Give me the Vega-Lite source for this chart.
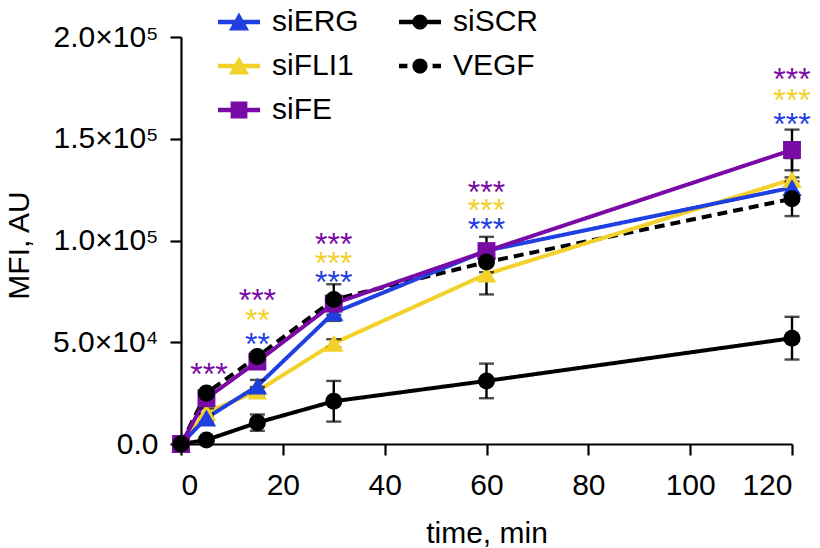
{
  "$schema": "https://vega.github.io/schema/vega-lite/v6.json",
  "autosize": "none",
  "width": 611,
  "height": 407,
  "padding": {"left": 181, "top": 37, "right": 28, "bottom": 104},
  "background": "white",
  "config": {
    "view": {"stroke": null},
    "font": "Liberation Sans",
    "axis": {"grid": false, "domainColor": "black", "tickColor": "black", "labelColor": "black", "titleColor": "black", "domainWidth": 2.2, "tickWidth": 2.2, "tickSize": 11, "labelFont": "Liberation Sans", "titleFont": "Liberation Sans", "labelFontSize": 30, "titleFontSize": 30, "titleFontWeight": "normal"}
  },
  "datasets": {
    "main": [
      {"series": "siSCR", "time": 0, "value": 0, "lo": 0, "hi": 0},
      {"series": "siSCR", "time": 5, "value": 2000, "lo": 1000, "hi": 3000},
      {"series": "siSCR", "time": 15, "value": 10500, "lo": 6500, "hi": 14500},
      {"series": "siSCR", "time": 30, "value": 21000, "lo": 11000, "hi": 31000},
      {"series": "siSCR", "time": 60, "value": 31000, "lo": 22500, "hi": 39500},
      {"series": "siSCR", "time": 120, "value": 52000, "lo": 41500, "hi": 62500},
      {"series": "VEGF", "time": 0, "value": 0, "lo": 0, "hi": 0},
      {"series": "VEGF", "time": 5, "value": 25000, "lo": 23500, "hi": 26500},
      {"series": "VEGF", "time": 15, "value": 43000, "lo": 41000, "hi": 45000},
      {"series": "VEGF", "time": 30, "value": 71000, "lo": 63500, "hi": 78500},
      {"series": "VEGF", "time": 60, "value": 89400, "lo": 84400, "hi": 94400},
      {"series": "VEGF", "time": 120, "value": 120500, "lo": 112000, "hi": 129000},
      {"series": "siFLI1", "time": 0, "value": 0, "lo": 0, "hi": 0},
      {"series": "siFLI1", "time": 5, "value": 15500, "lo": 13500, "hi": 17500},
      {"series": "siFLI1", "time": 15, "value": 26000, "lo": 24000, "hi": 28000},
      {"series": "siFLI1", "time": 30, "value": 49500, "lo": 47500, "hi": 51500},
      {"series": "siFLI1", "time": 60, "value": 83500, "lo": 73500, "hi": 93500},
      {"series": "siFLI1", "time": 120, "value": 130000, "lo": 119500, "hi": 140500},
      {"series": "siERG", "time": 0, "value": 0, "lo": 0, "hi": 0},
      {"series": "siERG", "time": 5, "value": 12800, "lo": 10800, "hi": 14800},
      {"series": "siERG", "time": 15, "value": 28500, "lo": 25500, "hi": 31500},
      {"series": "siERG", "time": 30, "value": 64500, "lo": 60500, "hi": 68500},
      {"series": "siERG", "time": 60, "value": 95000, "lo": 92000, "hi": 98000},
      {"series": "siERG", "time": 120, "value": 126000, "lo": 121000, "hi": 131000},
      {"series": "siFE", "time": 0, "value": 0, "lo": 0, "hi": 0},
      {"series": "siFE", "time": 5, "value": 22500, "lo": 20500, "hi": 24500},
      {"series": "siFE", "time": 15, "value": 40500, "lo": 37500, "hi": 43500},
      {"series": "siFE", "time": 30, "value": 69000, "lo": 66000, "hi": 72000},
      {"series": "siFE", "time": 60, "value": 94800, "lo": 87800, "hi": 101800},
      {"series": "siFE", "time": 120, "value": 144500, "lo": 134500, "hi": 154500}
    ],
    "stars": [
      {"series": "siFE", "time": 5.5, "pos": 37800, "label": "***"},
      {"series": "siFE", "time": 15, "pos": 74200, "label": "***"},
      {"series": "siFLI1", "time": 15, "pos": 64200, "label": "**"},
      {"series": "siERG", "time": 15, "pos": 52400, "label": "**"},
      {"series": "siFE", "time": 30, "pos": 101700, "label": "***"},
      {"series": "siFLI1", "time": 30, "pos": 92400, "label": "***"},
      {"series": "siERG", "time": 30, "pos": 83000, "label": "***"},
      {"series": "siFE", "time": 60, "pos": 127300, "label": "***"},
      {"series": "siFLI1", "time": 60, "pos": 118300, "label": "***"},
      {"series": "siERG", "time": 60, "pos": 108900, "label": "***"},
      {"series": "siFE", "time": 120, "pos": 182800, "label": "***"},
      {"series": "siFLI1", "time": 120, "pos": 172600, "label": "***"},
      {"series": "siERG", "time": 120, "pos": 160800, "label": "***"}
    ]
  },
  "layer": [
    {
      "data": {"name": "main"},
      "mark": {"type": "line", "strokeWidth": 4, "clip": false},
      "encoding": {
        "x": {"field": "time", "type": "quantitative", "title": "time, min", "scale": {"domain": [0, 120], "nice": false, "zero": false},
          "axis": {"values": [0, 20, 40, 60, 80, 100, 120], "labelBaseline": "alphabetic", "labelPadding": 39, "titleBaseline": "alphabetic", "titleY": 98, "titlePadding": 0}},
        "y": {"field": "value", "type": "quantitative", "title": "MFI, AU", "scale": {"domain": [0, 200000], "nice": false},
          "axis": {"values": [0, 50000, 100000, 150000, 200000], "labelExpr": "datum.value===0?'0.0':datum.value===50000?'5.0×10⁴':datum.value===100000?'1.0×10⁵':datum.value===150000?'1.5×10⁵':'2.0×10⁵'", "labelPadding": 12, "titleX": -153, "titleY": 208, "titleAngle": 270, "titleBaseline": "alphabetic", "titleAlign": "center"}},
        "color": {"field": "series", "type": "nominal",
          "scale": {"domain": ["siERG", "siFLI1", "siFE", "siSCR", "VEGF"], "range": ["#1f3fe0", "#f2d12a", "#7a0aa5", "#000000", "#000000"]},
          "legend": {"orient": "none", "legendX": 37, "legendY": -36, "columns": 2, "title": null, "padding": 0, "labelFontSize": 30, "labelColor": "black", "labelFont": "Liberation Sans", "labelOffset": 12, "rowPadding": 8, "columnPadding": 40, "symbolSize": 1764,
            "encode": {"symbols": {"update": {
              "shape": {"signal": "(datum.value==='siERG'||datum.value==='siFLI1') ? 'M-1,-0.11L1,-0.11L1,0.11L-1,0.11Z M-0.48,0.4L0,-0.45L0.48,0.4Z' : datum.value==='siFE' ? 'M-1,-0.11L1,-0.11L1,0.11L-1,0.11Z M-0.4,-0.4L0.4,-0.4L0.4,0.4L-0.4,0.4Z' : datum.value==='siSCR' ? 'M-1,-0.11L1,-0.11L1,0.11L-1,0.11Z M-0.36,0A0.36,0.36 0 1,1 0.36,0A0.36,0.36 0 1,1 -0.36,0Z' : 'M-1,-0.11L-0.6,-0.11L-0.6,0.11L-1,0.11Z M0.6,-0.11L1,-0.11L1,0.11L0.6,0.11Z M-0.36,0A0.36,0.36 0 1,1 0.36,0A0.36,0.36 0 1,1 -0.36,0Z'"},
              "fill": {"signal": "datum.value==='siERG'?'#1f3fe0':datum.value==='siFLI1'?'#f2d12a':datum.value==='siFE'?'#7a0aa5':'#000000'"},
              "stroke": {"value": "transparent"},
              "strokeWidth": {"value": 0},
              "strokeDash": {"value": []},
              "size": {"value": 1764},
              "opacity": {"value": 1}
            }}}}},
        "strokeDash": {"field": "series", "type": "nominal", "scale": {"domain": ["siERG", "siFLI1", "siFE", "siSCR", "VEGF"], "range": [[1, 0], [1, 0], [1, 0], [1, 0], [10, 6]]}, "legend": null},
        "detail": {"field": "series"}
      }
    },
    {
      "data": {"name": "main"},
      "mark": {"type": "errorbar", "ticks": {"size": 15, "thickness": 2.4, "color": "black"}, "rule": {"strokeWidth": 2.4, "color": "black"}, "color": "black"},
      "encoding": {
        "x": {"field": "time", "type": "quantitative", "title": "time, min"},
        "y": {"field": "lo", "type": "quantitative", "title": "MFI, AU"},
        "y2": {"field": "hi"},
        "detail": {"field": "series"}
      }
    },
    {
      "data": {"name": "main"},
      "transform": [{"filter": {"field": "series", "oneOf": ["siERG", "siFLI1"]}}],
      "mark": {"type": "point", "shape": "triangle-up", "size": 380, "filled": true, "opacity": 1, "clip": false},
      "encoding": {
        "x": {"field": "time", "type": "quantitative", "title": "time, min"},
        "y": {"field": "value", "type": "quantitative", "title": "MFI, AU"},
        "color": {"field": "series", "type": "nominal"}
      }
    },
    {
      "data": {"name": "main"},
      "transform": [{"filter": {"field": "series", "oneOf": ["siFE"]}}],
      "mark": {"type": "point", "shape": "square", "size": 320, "filled": true, "opacity": 1, "clip": false},
      "encoding": {
        "x": {"field": "time", "type": "quantitative", "title": "time, min"},
        "y": {"field": "value", "type": "quantitative", "title": "MFI, AU"},
        "color": {"field": "series", "type": "nominal"}
      }
    },
    {
      "data": {"name": "main"},
      "transform": [{"filter": {"field": "series", "oneOf": ["siSCR", "VEGF"]}}],
      "mark": {"type": "point", "shape": "circle", "size": 290, "filled": true, "opacity": 1, "clip": false},
      "encoding": {
        "x": {"field": "time", "type": "quantitative", "title": "time, min"},
        "y": {"field": "value", "type": "quantitative", "title": "MFI, AU"},
        "color": {"field": "series", "type": "nominal"}
      }
    },
    {
      "data": {"name": "stars"},
      "mark": {"type": "text", "fontSize": 32, "font": "Liberation Sans", "baseline": "alphabetic", "align": "center", "dy": 18},
      "encoding": {
        "x": {"field": "time", "type": "quantitative", "title": "time, min"},
        "y": {"field": "pos", "type": "quantitative", "title": "MFI, AU"},
        "text": {"field": "label"},
        "color": {"field": "series", "type": "nominal"}
      }
    }
  ]
}
